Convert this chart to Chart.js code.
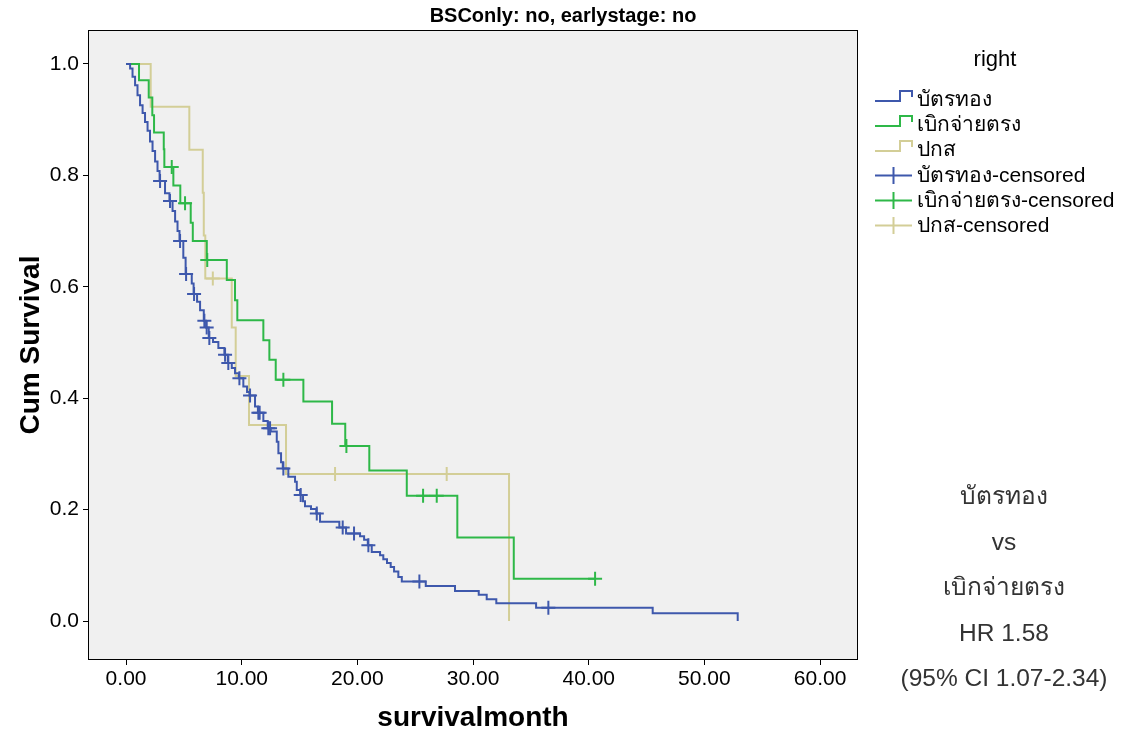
<!DOCTYPE html>
<html>
<head>
<meta charset="utf-8">
<title>Survival</title>
<script src="https://cdn.jsdelivr.net/npm/chart.js@4.4.0/dist/chart.umd.min.js"></script>
<style>
  body { margin: 0; background: #fff; }
  #wrap { position: relative; width: 1126px; height: 737px; font-family: "Liberation Sans", Arial, "Noto Sans", "DejaVu Sans", sans-serif; }
  #km { position: absolute; left: 0; top: 0; }
  .lg-title { position: absolute; left: 935px; width: 120px; top: 47px; text-align: center; font-size: 22px; line-height: 24px; color: #000; }
  .lg-row { position: absolute; left: 875px; height: 22px; line-height: 22px; font-size: 21px; color: #000; white-space: nowrap; }
  .lg-row svg { position: absolute; left: 0; top: 1px; }
  .lg-row span { position: absolute; left: 42px; top: 0; }
  .note { position: absolute; left: 874px; width: 260px; text-align: center; font-size: 24.5px; line-height: 28px; color: #333; white-space: nowrap; }
</style>
</head>
<body>
<div id="wrap">
  <canvas id="km" width="1126" height="737"></canvas>
</div>
<script>
// groups of the "right" variable
const groups = ['บัตรทอง', 'เบิกจ่ายตรง', 'ปกส'];
const colors = ['#3e58ac', '#2eb848', '#d3ce97'];

// บัตรทอง : event times (months) and survival after each step
const goldTimes = [0.35, 0.56, 0.78, 0.99, 1.21, 1.43, 1.64, 1.86, 2.07, 2.29, 2.51, 2.72, 2.90, 3.37, 3.75,
  4.02, 4.24, 4.45, 4.62, 4.95, 5.15, 5.68, 5.84, 6.14, 6.40, 6.72, 6.92, 7.15, 7.52, 7.98, 8.50, 8.80,
  9.14, 9.42, 9.75, 10.14, 10.46, 10.68, 11.15, 11.40, 11.87, 12.25, 12.51, 13.03, 13.17, 13.40, 13.55,
  14.03, 14.61, 14.76, 15.05, 15.30, 15.47, 15.99, 16.45, 16.77, 18.44, 19.02, 20.23, 20.58, 20.90,
  21.24, 21.96, 22.24, 22.56, 22.88, 23.17, 23.54, 23.84, 25.91, 28.44, 30.49, 31.18, 32.01, 35.45,
  45.53, 52.88];
const goldSurv = [0.992, 0.977, 0.962, 0.944, 0.926, 0.912, 0.896, 0.880, 0.861, 0.844, 0.825, 0.808, 0.790, 0.768, 0.754,
  0.736, 0.717, 0.700, 0.682, 0.652, 0.623, 0.606, 0.587, 0.573, 0.558, 0.539, 0.527, 0.508, 0.501, 0.490, 0.478, 0.463,
  0.454, 0.445, 0.436, 0.421, 0.411, 0.405, 0.385, 0.374, 0.359, 0.346, 0.340, 0.322, 0.301, 0.285, 0.274,
  0.259, 0.250, 0.235, 0.226, 0.215, 0.206, 0.201, 0.193, 0.178, 0.168, 0.157, 0.152, 0.146, 0.136,
  0.124, 0.118, 0.111, 0.104, 0.097, 0.089, 0.079, 0.071, 0.063, 0.054, 0.047, 0.039, 0.032, 0.024,
  0.014, 0.0];
const goldCensor = [2.94, 3.80, 4.67, 5.19, 5.88, 6.77, 6.97, 7.20, 8.56, 8.84, 9.80, 10.72, 11.44, 11.55,
  12.30, 12.45, 13.60, 15.10, 16.49, 18.73, 19.71, 20.95, 25.36, 36.51];

// เบิกจ่ายตรง
const directTimes = [1.12, 1.96, 2.27, 2.42, 3.26, 3.31, 4.09, 4.69, 5.59, 5.77, 6.98, 8.71, 9.42, 9.62,
  11.87, 12.39, 12.94, 15.33, 17.81, 18.95, 21.03, 24.27, 28.64, 33.52];
const directSurv = [0.971, 0.940, 0.908, 0.877, 0.847, 0.815, 0.782, 0.750, 0.715, 0.682, 0.648, 0.612, 0.576, 0.540,
  0.504, 0.469, 0.433, 0.394, 0.354, 0.314, 0.270, 0.225, 0.150, 0.076];
const directCensor = [3.95, 5.10, 7.02, 13.60, 19.05, 25.68, 26.86, 40.55];

// ปกส
const ssoTimes = [2.13, 5.47, 6.63, 6.72, 6.85, 9.14, 9.48, 10.63, 13.83, 33.11];
const ssoSurv = [0.923, 0.846, 0.769, 0.692, 0.615, 0.527, 0.440, 0.352, 0.264, 0.0];
const ssoCensor = [7.50, 18.07, 27.72];

const xTicks = [0, 10, 20, 30, 40, 50, 60];
const yTicks = [0, 0.2, 0.4, 0.6, 0.8, 1.0];

function survAt(times, surv, t) {
  let s = 1;
  for (let i = 0; i < times.length; i++) {
    if (times[i] <= t) s = surv[i];
  }
  return s;
}

function stepPoints(times, surv, censor) {
  const pts = [{x: 0, y: 1}];
  for (let i = 0; i < times.length; i++) pts.push({x: times[i], y: surv[i]});
  const lastC = Math.max(...censor);
  if (lastC > times[times.length - 1]) pts.push({x: lastC, y: surv[surv.length - 1]});
  return pts;
}

function censorPoints(times, surv, censor) {
  return censor.map(t => ({x: t, y: survAt(times, surv, t)}));
}

const series = [
  {times: goldTimes, surv: goldSurv, censor: goldCensor},
  {times: directTimes, surv: directSurv, censor: directCensor},
  {times: ssoTimes, surv: ssoSurv, censor: ssoCensor}
];

const datasets = [];
series.forEach((s, i) => {
  datasets.push({
    label: groups[i],
    data: stepPoints(s.times, s.surv, s.censor),
    stepped: 'before',
    borderColor: colors[i],
    borderWidth: 2,
    pointRadius: 0,
    fill: false,
    order: i * 2 + 1
  });
  datasets.push({
    label: groups[i] + '-censored',
    data: censorPoints(s.times, s.surv, s.censor),
    showLine: false,
    pointStyle: 'cross',
    pointRadius: 7,
    borderColor: colors[i],
    borderWidth: 2,
    order: i * 2
  });
});

// grey plot background and black frame
const plotFrame = {
  id: 'plotFrame',
  beforeDraw(chart) {
    const {ctx, chartArea: a} = chart;
    ctx.save();
    ctx.fillStyle = '#f0f0f0';
    ctx.fillRect(a.left, a.top, a.right - a.left, a.bottom - a.top);
    ctx.restore();
  },
  afterDraw(chart) {
    const {ctx, chartArea: a} = chart;
    ctx.save();
    ctx.strokeStyle = '#000';
    ctx.lineWidth = 1;
    ctx.strokeRect(a.left + 0.5, a.top + 0.5, a.right - a.left - 1, a.bottom - a.top - 1);
    ctx.restore();
  }
};

const font = '"Liberation Sans", Arial, "Noto Sans", sans-serif';

new Chart(document.getElementById('km').getContext('2d'), {
  type: 'line',
  data: {datasets: datasets},
  plugins: [plotFrame],
  options: {
    responsive: false,
    animation: false,
    layout: {padding: 0},
    plugins: {
      legend: {display: false},
      tooltip: {enabled: false},
      title: {
        display: true,
        text: 'BSConly: no, earlystage: no',
        color: '#000',
        font: {family: font, size: 20, weight: 'bold'},
        padding: {top: 4, bottom: 2}
      }
    },
    scales: {
      x: {
        type: 'linear',
        min: -3.29,
        max: 63.28,
        afterFit: s => { s.height = 77; },
        afterBuildTicks: s => { s.ticks = xTicks.map(v => ({value: v})); },
        ticks: {
          color: '#000',
          font: {family: font, size: 21},
          padding: 2,
          callback: v => v.toFixed(2)
        },
        grid: {display: true, drawOnChartArea: false, drawTicks: true, tickLength: 5, color: '#000'},
        border: {display: false},
        title: {
          display: true,
          text: 'survivalmonth',
          color: '#000',
          font: {family: font, size: 28, weight: 'bold'},
          padding: {top: 0, bottom: 2}
        }
      },
      y: {
        type: 'linear',
        min: -0.07,
        max: 1.061,
        afterFit: s => { s.width = 88; },
        afterBuildTicks: s => { s.ticks = yTicks.map(v => ({value: v})); },
        ticks: {
          color: '#000',
          font: {family: font, size: 21},
          padding: 4,
          callback: v => v.toFixed(1)
        },
        grid: {display: true, drawOnChartArea: false, drawTicks: true, tickLength: 5, color: '#000'},
        border: {display: false},
        title: {
          display: true,
          text: 'Cum Survival',
          color: '#000',
          font: {family: font, size: 28, weight: 'bold'},
          padding: {top: 14, bottom: 0}
        }
      },
      side: {
        type: 'linear',
        position: 'right',
        display: true,
        afterFit: s => { s.width = 268; },
        ticks: {display: false},
        grid: {display: false},
        border: {display: false}
      }
    }
  }
});

// legend at the right
const wrap = document.getElementById('wrap');
const lgTitle = document.createElement('div');
lgTitle.className = 'lg-title';
lgTitle.textContent = 'right';
wrap.appendChild(lgTitle);

const rows = [];
groups.forEach((g, i) => rows.push({text: g, color: colors[i], censored: false}));
groups.forEach((g, i) => rows.push({text: g + '-censored', color: colors[i], censored: true}));
rows.forEach((r, i) => {
  const row = document.createElement('div');
  row.className = 'lg-row';
  row.style.top = (88 + i * 25.2) + 'px';
  const path = r.censored ? 'M0 10.5 H37 M18.5 2 V19' : 'M0 12 H25 V2 H37 V8';
  row.innerHTML = '<svg width="38" height="21"><path d="' + path + '" stroke="' + r.color +
    '" stroke-width="2" fill="none"/></svg><span></span>';
  row.querySelector('span').textContent = r.text;
  wrap.appendChild(row);
});

// hazard ratio note
const noteLines = ['บัตรทอง', 'vs', 'เบิกจ่ายตรง', 'HR 1.58', '(95% CI 1.07-2.34)'];
noteLines.forEach((t, i) => {
  const d = document.createElement('div');
  d.className = 'note';
  d.style.top = (482 + i * 45.5) + 'px';
  d.textContent = t;
  wrap.appendChild(d);
});
</script>
</body>
</html>
